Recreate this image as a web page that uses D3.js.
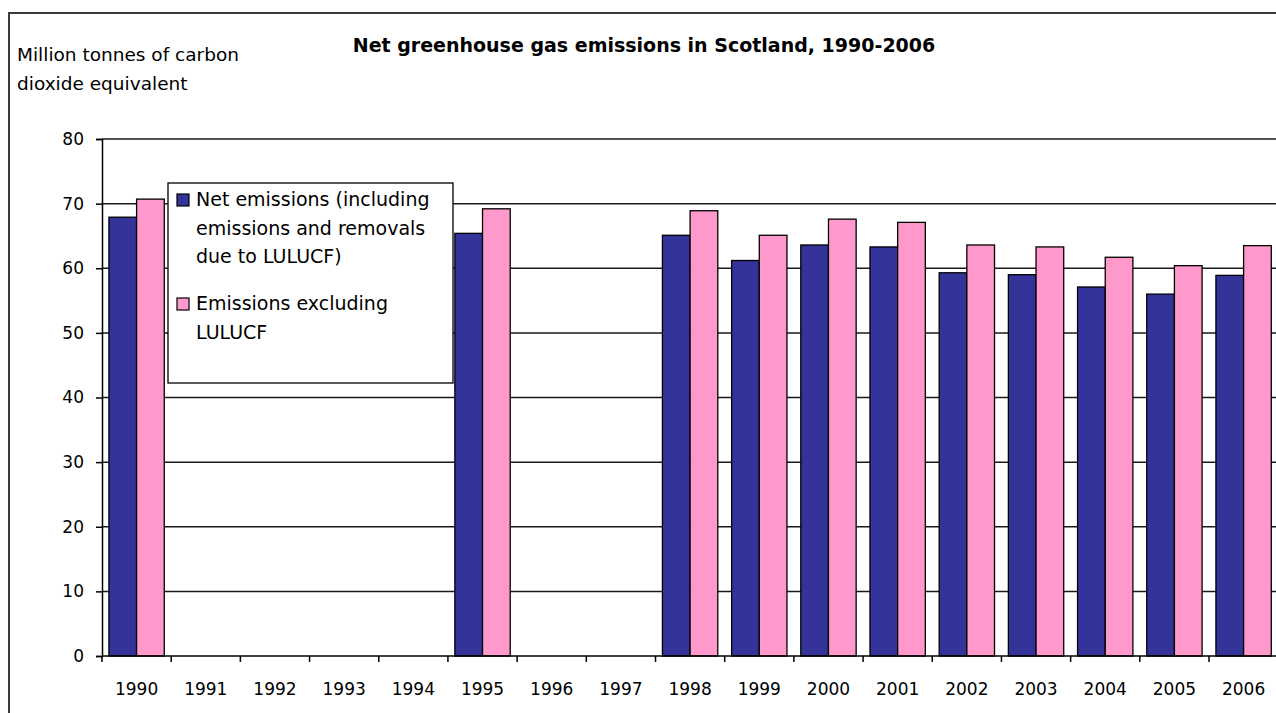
<!DOCTYPE html>
<html>
<head>
<meta charset="utf-8">
<script src="https://cdn.jsdelivr.net/npm/d3@7"></script>
<style>
  html, body { margin: 0; padding: 0; background: #fff; }
  svg { display: block; }
  text { font-family: "DejaVu Sans", Verdana, sans-serif; fill: #000; }
</style>
</head>
<body>
<svg id="chart" width="1276" height="713"></svg>
<script>
// ---- data ----
const years = ["1990","1991","1992","1993","1994","1995","1996","1997","1998","1999","2000","2001","2002","2003","2004","2005","2006"];
const netEmissions = [67.9, null, null, null, null, 65.4, null, null, 65.1, 61.2, 63.6, 63.3, 59.3, 59.0, 57.1, 56.0, 58.9];
const emissionsExclLULUCF = [70.7, null, null, null, null, 69.2, null, null, 68.9, 65.1, 67.6, 67.1, 63.6, 63.3, 61.7, 60.4, 63.5];
const seriesNames = ["Net emissions (including emissions and removals due to LULUCF)", "Emissions excluding LULUCF"];
const seriesKeys = ["net", "excl"];
const seriesColors = ["#333399", "#ff99cc"];
const yTicks = [0, 10, 20, 30, 40, 50, 60, 70, 80];
const titleText = "Net greenhouse gas emissions in Scotland, 1990-2006";
const yLabelLines = ["Million tonnes of carbon", "dioxide equivalent"];
const legendLines = [["Net emissions (including", "emissions and removals", "due to LULUCF)"], ["Emissions excluding", "LULUCF"]];

const rows = years.map((yr, i) => ({ year: yr, net: netEmissions[i], excl: emissionsExclLULUCF[i] }));

// ---- layout ----
const svg = d3.select("#chart");
const plotLeft = 102, plotTop = 139, plotBottom = 656, plotRight = 1278.2;

svg.append("rect").attr("width", 1276).attr("height", 713).attr("fill", "#fff");

// outer chart border (extends beyond visible frame)
svg.append("rect")
  .attr("x", 9).attr("y", 13).attr("width", 1300).attr("height", 750)
  .attr("fill", "none").attr("stroke", "#3a3a3a").attr("stroke-width", 2);

const x = d3.scaleBand().domain(years).range([plotLeft, plotRight]).paddingInner(0).paddingOuter(0);
const x1 = d3.scaleBand().domain(seriesKeys).range([0, x.bandwidth()]).paddingInner(0).paddingOuter(0.25);
const y = d3.scaleLinear().domain([0, 80]).range([plotBottom, plotTop]);
const color = d3.scaleOrdinal().domain(seriesKeys).range(seriesColors);

// gridlines
svg.append("g").selectAll("line")
  .data(yTicks.filter(t => t > 0))
  .join("line")
  .attr("x1", plotLeft).attr("x2", plotRight)
  .attr("y1", d => y(d)).attr("y2", d => y(d))
  .attr("stroke", "#1a1a1a").attr("stroke-width", 1.5);

// bars
const groups = svg.append("g").selectAll("g")
  .data(rows).join("g")
  .attr("transform", d => `translate(${x(d.year)},0)`);

groups.selectAll("rect")
  .data(d => seriesKeys.filter(k => d[k] != null).map(k => ({ key: k, value: d[k] })))
  .join("rect")
  .attr("x", d => x1(d.key))
  .attr("width", x1.bandwidth())
  .attr("y", d => y(d.value))
  .attr("height", d => y(0) - y(d.value))
  .attr("fill", d => color(d.key))
  .attr("stroke", "#000").attr("stroke-width", 1.3);

// y axis
const yAxis = svg.append("g")
  .attr("transform", `translate(${plotLeft},0)`)
  .call(d3.axisLeft(y).tickValues(yTicks).tickSize(6).tickPadding(12).tickFormat(d3.format("d")));
yAxis.select(".domain").attr("stroke", "#000").attr("stroke-width", 1.5);
yAxis.selectAll(".tick line").attr("stroke", "#000").attr("stroke-width", 1.5);
yAxis.selectAll("text").style("font-family", "DejaVu Sans").style("font-size", "17px").attr("fill", "#000");

// x axis: labels via axis, ticks at category boundaries
const xAxis = svg.append("g")
  .attr("transform", `translate(0,${plotBottom})`)
  .call(d3.axisBottom(x).tickSize(0).tickPadding(27));
xAxis.select(".domain").remove();
xAxis.selectAll("text").style("font-family", "DejaVu Sans").style("font-size", "17px").attr("fill", "#000");

svg.append("line")
  .attr("x1", plotLeft).attr("x2", plotRight)
  .attr("y1", plotBottom).attr("y2", plotBottom)
  .attr("stroke", "#000").attr("stroke-width", 1.5);

svg.append("g").selectAll("line")
  .data(years.concat(["end"]))
  .join("line")
  .attr("x1", d => d === "end" ? plotRight : x(d))
  .attr("x2", d => d === "end" ? plotRight : x(d))
  .attr("y1", plotBottom).attr("y2", plotBottom + 6)
  .attr("stroke", "#000").attr("stroke-width", 1.5);

// title
svg.append("text")
  .attr("x", 644).attr("y", 52)
  .attr("text-anchor", "middle")
  .style("font-family", "DejaVu Sans").style("font-weight", "bold").style("font-size", "19px")
  .text(titleText);

// y label
svg.append("g").selectAll("text")
  .data(yLabelLines).join("text")
  .attr("x", 17).attr("y", (d, i) => 61 + i * 29)
  .style("font-size", "18.5px")
  .text(d => d);

// legend
const legend = svg.append("g");
legend.append("rect")
  .attr("x", 168).attr("y", 183).attr("width", 285).attr("height", 200)
  .attr("fill", "#fff").attr("stroke", "#000").attr("stroke-width", 1.3);

const legendItemTop = [194, 298];
seriesKeys.forEach((k, i) => {
  legend.append("rect")
    .attr("x", 177).attr("y", legendItemTop[i]).attr("width", 12).attr("height", 12)
    .attr("fill", color(k)).attr("stroke", "#000").attr("stroke-width", 1.2);
  legend.append("g").selectAll("text")
    .data(legendLines[i]).join("text")
    .attr("x", 196).attr("y", (d, j) => legendItemTop[i] + 12 + j * 28.5)
    .style("font-size", "19px")
    .text(d => d);
});
</script>
</body>
</html>
